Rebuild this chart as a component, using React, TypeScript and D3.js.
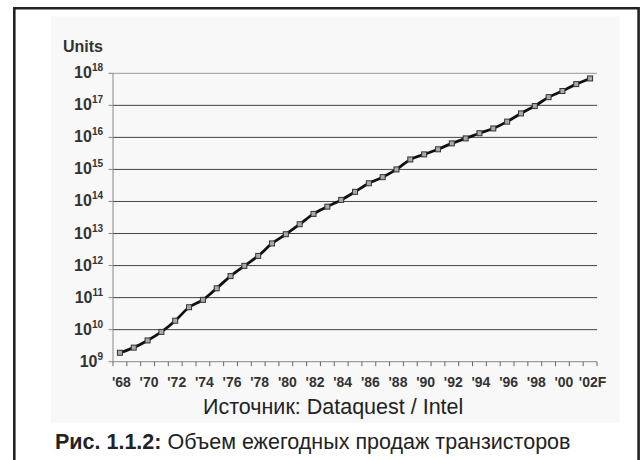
import React from 'react';
import * as d3 from 'd3';

// Annual transistor shipments, units (log scale), 1968 – 2002 forecast
const years = d3.range(1968, 2003);
const units = [
  1.9e9, 2.75e9, 4.6e9, 8.5e9, 1.9e10, 5.0e10, 8.5e10, 1.95e11, 4.7e11, 9.8e11,
  2.0e12, 4.9e12, 9.5e12, 1.95e13, 4.1e13, 6.9e13, 1.12e14, 2.0e14, 3.7e14, 5.75e14,
  1.0e15, 2.05e15, 2.95e15, 4.25e15, 6.5e15, 9.3e15, 1.35e16, 1.9e16, 3.1e16, 5.6e16,
  9.5e16, 1.8e17, 2.8e17, 4.6e17, 6.9e17,
];
const yearLabels = [
  "'68", "'70", "'72", "'74", "'76", "'78", "'80", "'82", "'84",
  "'86", "'88", "'90", "'92", "'94", "'96", "'98", "'00", "'02F",
];
const exponents = [9, 10, 11, 12, 13, 14, 15, 16, 17, 18];

const FONT = "'Liberation Sans', Arial, Helvetica, sans-serif";

const App = () => {
  const width = 644;
  const height = 460;
  const plot = { left: 113, right: 597, top: 73.3, bottom: 361.7 };

  const x = d3.scaleBand<number>().domain(years).range([plot.left, plot.right]);
  const y = d3.scaleLog().domain([1e9, 1e18]).range([plot.bottom, plot.top]);

  const points = years.map((yr, i) => ({ yr, v: units[i] }));
  const cx = (yr: number) => (x(yr) as number) + x.bandwidth() / 2;
  const line = d3
    .line<{ yr: number; v: number }>()
    .x((d) => cx(d.yr))
    .y((d) => y(d.v))
    .curve(d3.curveMonotoneX);

  // category boundaries for x ticks
  const boundaries = years.map((yr) => x(yr) as number).concat([plot.right]);

  return (
    <svg
      width={width}
      height={height}
      style={{ position: 'absolute', left: 0, top: 0, background: '#fff' }}
      fontFamily={FONT}
    >
      {/* outer frame */}
      <path d={`M14.3,462 V8.3 H638.6 V462`} fill="none" stroke="#222" strokeWidth={2.6} />
      {/* chart panel */}
      <rect x={51} y={16.5} width={568.5} height={406.5} fill="#f8f8f8" />

      <text x={63} y={51.5} fontSize={16} fontWeight="bold" fill="#333">
        Units
      </text>

      {/* gridlines + y labels */}
      {exponents.map((e) => {
        const yy = y(Math.pow(10, e));
        return (
          <g key={e}>
            {e > 9 && (
              <line
                x1={plot.left}
                x2={plot.right}
                y1={yy}
                y2={yy}
                stroke={e === 18 ? '#999' : '#444'}
                strokeWidth={1}
              />
            )}
            <line x1={plot.left - 4.5} x2={plot.left} y1={yy} y2={yy} stroke="#888" strokeWidth={1} />
            <text x={103} y={yy + 5} textAnchor="end" fontWeight="bold" fill="#333" fontSize={16}>
              10
              <tspan fontSize={10} dy={-7}>
                {e}
              </tspan>
            </text>
          </g>
        );
      })}

      {/* axes */}
      <line x1={plot.left} x2={plot.left} y1={plot.top} y2={plot.bottom} stroke="#888" strokeWidth={1} />
      <line x1={plot.left} x2={plot.right} y1={plot.bottom} y2={plot.bottom} stroke="#888" strokeWidth={1} />
      {boundaries.map((bx, i) => (
        <line key={i} x1={bx} x2={bx} y1={plot.bottom} y2={plot.bottom + 4.5} stroke="#666" strokeWidth={1} />
      ))}
      {yearLabels.map((lab, i) => (
        <text
          key={lab}
          x={cx(years[i * 2]) + (lab.length > 3 ? 2.5 : 1.5)}
          y={387.3}
          textAnchor="middle"
          fontWeight="bold"
          fontSize={14}
          fill="#333"
        >
          {lab}
        </text>
      ))}

      {/* series */}
      <path d={line(points) ?? ''} fill="none" stroke="#111" strokeWidth={2.8} />
      {points.map((d) => (
        <rect
          key={d.yr}
          x={cx(d.yr) - 2.5}
          y={y(d.v) - 2.5}
          width={5}
          height={5}
          fill="#aaa"
          stroke="#333"
          strokeWidth={1}
        />
      ))}

      <text x={203} y={414} fontSize={21.5} fill="#222">
        Источник: Dataquest / Intel
      </text>

      <text x={55} y={449} fontSize={21.5} fill="#222">
        <tspan fontWeight="bold">Рис. 1.1.2:</tspan> Объем ежегодных продаж транзисторов
      </text>
    </svg>
  );
};

export default App;
